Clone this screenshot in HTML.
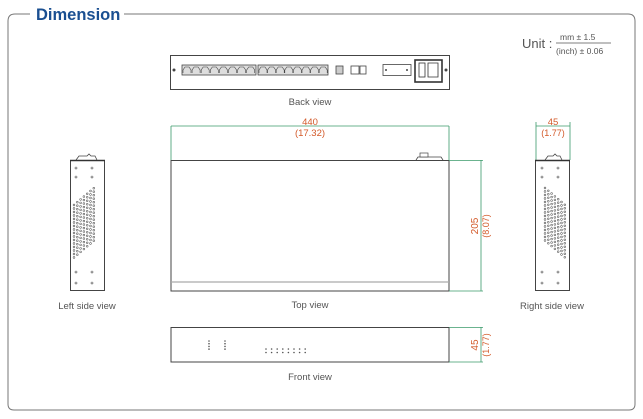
<!DOCTYPE html>
<html><head><meta charset="utf-8"><style>
html,body{margin:0;padding:0;background:#fff;}
svg{display:block;font-family:"Liberation Sans",sans-serif;}
</style></head><body>
<svg id="s" width="643" height="419" viewBox="0 0 643 419" xmlns="http://www.w3.org/2000/svg">
<path d="M30 14 H15 Q8 14 8 21 V404 Q8 410 14 410 H629 Q635 410 635 404 V21 Q635 14 628 14 H124" fill="none" stroke="#777" stroke-width="1"/>
<text x="36" y="20" font-size="16.5" font-weight="bold" fill="#1a4f91">Dimension</text>
<text x="522" y="48" font-size="13" fill="#555">Unit :</text>
<text x="560" y="40" font-size="8.5" fill="#555">mm ± 1.5</text>
<line x1="556" y1="43" x2="611" y2="43" stroke="#555" stroke-width="0.7"/>
<text x="556" y="54" font-size="8.5" fill="#555">(inch) ± 0.06</text>
<rect x="170.5" y="55.5" width="279" height="34" fill="#fff" stroke="#444"/>
<circle cx="174" cy="70" r="1.5" fill="#444"/>
<circle cx="446" cy="70" r="1.5" fill="#444"/>
<rect x="182" y="65" width="74" height="10" fill="#ddd" stroke="#444" stroke-width="0.8"/>
<rect x="258" y="65" width="70" height="10" fill="#ddd" stroke="#444" stroke-width="0.8"/>
<g id="ports"></g>
<rect x="336" y="66" width="7" height="8" fill="#ccc" stroke="#444" stroke-width="0.8"/>
<rect x="351" y="66" width="8" height="8" fill="#fff" stroke="#444" stroke-width="0.8"/>
<rect x="360" y="66" width="6" height="8" fill="#fff" stroke="#444" stroke-width="0.8"/>
<rect x="383" y="64.5" width="28" height="11" fill="#fff" stroke="#444" stroke-width="0.8"/>
<circle cx="386" cy="70" r="1" fill="#444"/><circle cx="407" cy="70" r="1" fill="#444"/>
<rect x="415" y="60" width="27" height="22" fill="#fff" stroke="#333" stroke-width="1.6"/>
<rect x="419" y="63" width="6" height="14" fill="#fff" stroke="#333" stroke-width="0.8"/>
<path d="M428 63 H438 V77 H428 Z" fill="#fff" stroke="#333" stroke-width="0.8"/>
<text x="310" y="105" font-size="9.5" fill="#555" text-anchor="middle">Back view</text>
<line x1="171" y1="126" x2="449" y2="126" stroke="#3a9a6a" stroke-width="0.8"/>
<line x1="171" y1="126" x2="171" y2="160" stroke="#3a9a6a" stroke-width="0.8"/>
<line x1="449" y1="126" x2="449" y2="160" stroke="#3a9a6a" stroke-width="0.8"/>
<text x="310" y="125" font-size="9.5" fill="#d35a2a" text-anchor="middle">440</text>
<text x="310" y="136" font-size="9.5" fill="#d35a2a" text-anchor="middle">(17.32)</text>
<rect x="171" y="160.5" width="278" height="130.5" fill="#fff" stroke="#444"/>
<line x1="171" y1="282" x2="449" y2="282" stroke="#aaa" stroke-width="1.2"/>
<path d="M416 160 L418 157 H441 L443 160" fill="none" stroke="#444" stroke-width="0.8"/>
<rect x="420" y="153" width="8" height="4" fill="#fff" stroke="#444" stroke-width="0.7"/>
<line x1="449" y1="160.5" x2="483" y2="160.5" stroke="#3a9a6a" stroke-width="0.8"/>
<line x1="449" y1="291" x2="483" y2="291" stroke="#3a9a6a" stroke-width="0.8"/>
<line x1="481" y1="160" x2="481" y2="291" stroke="#3a9a6a" stroke-width="0.8"/>
<text transform="translate(478,226) rotate(-90)" font-size="10" fill="#d35a2a" text-anchor="middle">205</text>
<text transform="translate(489,226) rotate(-90)" font-size="9" fill="#d35a2a" text-anchor="middle">(8.07)</text>
<text x="310" y="308" font-size="9.5" fill="#555" text-anchor="middle">Top view</text>
<rect x="70.5" y="160.5" width="34" height="130" fill="#fff" stroke="#444"/>
<line x1="70" y1="160.5" x2="105" y2="160.5" stroke="#333" stroke-width="1.5"/>
<path d="M76 160 L79 156 H87 L89 154 L91 156 H95 L97 160" fill="none" stroke="#444" stroke-width="0.8"/>
<g id="lh"></g>
<text x="87" y="309" font-size="9.5" fill="#555" text-anchor="middle">Left side view</text>
<line x1="536" y1="126" x2="570" y2="126" stroke="#3a9a6a" stroke-width="0.8"/>
<line x1="536" y1="122" x2="536" y2="160" stroke="#3a9a6a" stroke-width="0.8"/>
<line x1="570" y1="122" x2="570" y2="160" stroke="#3a9a6a" stroke-width="0.8"/>
<text x="553" y="125" font-size="9.5" fill="#d35a2a" text-anchor="middle">45</text>
<text x="553" y="136" font-size="9" fill="#d35a2a" text-anchor="middle">(1.77)</text>
<rect x="535.5" y="160.5" width="34" height="130" fill="#fff" stroke="#444"/>
<line x1="535" y1="160.5" x2="570" y2="160.5" stroke="#333" stroke-width="1.5"/>
<path d="M545 160 L548 156 H553 L555 154 L557 156 H560 L562 160" fill="none" stroke="#444" stroke-width="0.8"/>
<g id="rh"></g>
<text x="552" y="309" font-size="9.5" fill="#555" text-anchor="middle">Right side view</text>
<rect x="171" y="327.5" width="278" height="34.5" fill="#fff" stroke="#444"/>
<line x1="449" y1="327.5" x2="483" y2="327.5" stroke="#3a9a6a" stroke-width="0.8"/>
<line x1="449" y1="362" x2="483" y2="362" stroke="#3a9a6a" stroke-width="0.8"/>
<line x1="481" y1="327" x2="481" y2="362" stroke="#3a9a6a" stroke-width="0.8"/>
<text transform="translate(478,345) rotate(-90)" font-size="10" fill="#d35a2a" text-anchor="middle">45</text>
<text transform="translate(489,345) rotate(-90)" font-size="9" fill="#d35a2a" text-anchor="middle">(1.77)</text>
<g id="fl"></g>
<text x="310" y="380" font-size="9.5" fill="#555" text-anchor="middle">Front view</text>
</svg>
<script>
var NS="http://www.w3.org/2000/svg";
function c(g,x,y,r,fill,stroke){var e=document.createElementNS(NS,"circle");e.setAttribute("cx",x);e.setAttribute("cy",y);e.setAttribute("r",r);e.setAttribute("fill",fill||"none");if(stroke){e.setAttribute("stroke",stroke);e.setAttribute("stroke-width","0.6");}g.appendChild(e);}
function p(g,x,y,w,h){var e=document.createElementNS(NS,"path");e.setAttribute("d","M"+x+" "+(y+h)+" V"+(y+3)+" L"+(x+2)+" "+y+" H"+(x+w-2)+" L"+(x+w)+" "+(y+3)+" V"+(y+h));e.setAttribute("fill","none");e.setAttribute("stroke","#444");e.setAttribute("stroke-width","0.6");g.appendChild(e);}
var ports=document.getElementById("ports");
for(var i=0;i<8;i++){p(ports,183+i*9.1,67,8,6);p(ports,259+i*8.6,67,8,6);}
var lh=document.getElementById("lh"),rh=document.getElementById("rh");
[[76,168],[92,168],[76,177],[92,177],[76,272],[92,272],[76,283],[92,283]].forEach(function(a){c(lh,a[0],a[1],1,"#fff","#555");c(rh,a[0]+466,a[1],1,"#fff","#555");});
for(var col=0;col<7;col++){
 for(var k=0;k<16;k++){
  c(lh,74+col*3.3,205-col*2.8+k*3.5,0.9,"#fff","#555");
  c(rh,545+col*3.3,188+col*2.8+k*3.5,0.9,"#fff","#555");
 }
}
var fl=document.getElementById("fl");
for(var k=0;k<4;k++){c(fl,209,341+k*2.7,0.8,"#555");c(fl,225,341+k*2.7,0.8,"#555");}
for(var j=0;j<8;j++){c(fl,266+j*5.6,349,0.8,"#555");c(fl,266+j*5.6,352.5,0.8,"#555");}
</script>
</body></html>
